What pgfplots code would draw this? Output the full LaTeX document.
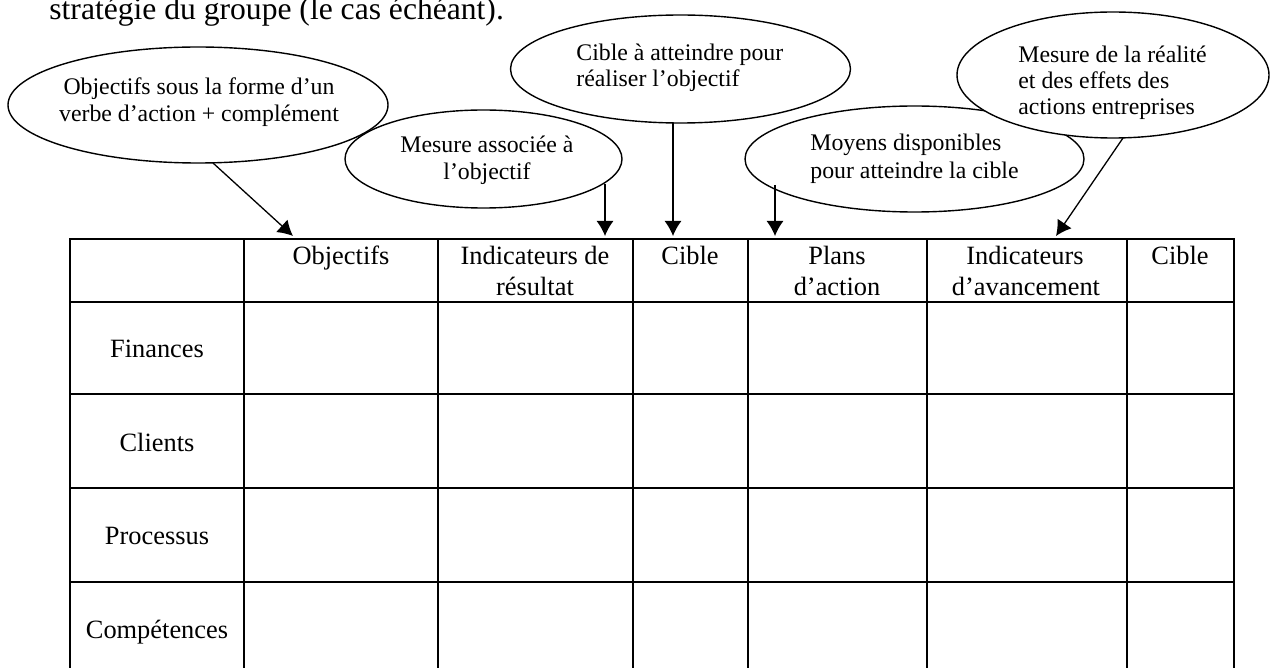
\documentclass[border=0pt]{standalone}
\usepackage{fontspec}
\setmainfont{Liberation Serif}
\usepackage{pgfplots}
\pgfplotsset{compat=1.18}
\usetikzlibrary{arrows.meta}
\tikzset{
  tbl/.style={black, line width=1.35pt, line cap=rect, mark=none},
  ell/.style={draw=black, fill=white, line width=0.7pt},
  arr/.style={-{Latex[length=7.5pt,width=8.5pt]}, line width=0.65pt},
  etxt/.style={inner sep=0pt, font=\fontsize{11.9}{13}\selectfont},
  ttxt/.style={inner sep=0pt, font=\fontsize{13.2}{15}\selectfont},
}
\begin{document}
\begin{tikzpicture}
\useasboundingbox (0,0) rectangle (636.5pt,334pt);
\begin{axis}[
  at={(0pt,0pt)}, anchor=south west,
  scale only axis, width=636.5pt, height=334pt,
  xmin=0, xmax=1273, ymin=0, ymax=668, y dir=reverse,
  hide axis, clip=true,
]
% heading text
\node[anchor=base west, inner sep=0pt, font=\fontsize{15.8}{19}\selectfont] at (axis cs:49,20) {stratégie du groupe (le cas échéant).};

% ellipse 1
\draw[ell] (axis cs:198,105) ellipse [x radius=95pt, y radius=29pt];
\node[etxt, anchor=base] at (axis cs:199,95) {Objectifs sous la forme d’un};
\node[etxt, anchor=base] at (axis cs:199,122) {verbe d’action + complément};
% ellipse 2
\draw[ell] (axis cs:483.5,159) ellipse [x radius=69.25pt, y radius=24.5pt];
\node[etxt, anchor=base] at (axis cs:487,153) {Mesure associée à};
\node[etxt, anchor=base] at (axis cs:487,180) {l’objectif};
% ellipse 3
\draw[ell] (axis cs:680.5,69) ellipse [x radius=85pt, y radius=27pt];
\node[etxt, anchor=base west] at (axis cs:576,61) {Cible à atteindre pour};
\node[etxt, anchor=base west] at (axis cs:576,87) {réaliser l’objectif};
% ellipse 4
\draw[ell] (axis cs:914.5,159) ellipse [x radius=84.75pt, y radius=26.5pt];
\node[etxt, anchor=base west] at (axis cs:810,151) {Moyens disponibles};
\node[etxt, anchor=base west] at (axis cs:810,179) {pour atteindre la cible};
% ellipse 5
\draw[ell] (axis cs:1113,75) ellipse [x radius=78pt, y radius=31.5pt];
\node[etxt, anchor=base west] at (axis cs:1018,63) {Mesure de la réalité};
\node[etxt, anchor=base west] at (axis cs:1018,89) {et des effets des};
\node[etxt, anchor=base west] at (axis cs:1018,115) {actions entreprises};

% arrows
\draw[arr] (axis cs:213,163) -- (axis cs:293,236);
\draw[arr] (axis cs:605,184) -- (axis cs:605,236);
\draw[arr] (axis cs:673,123) -- (axis cs:673,236);
\draw[arr] (axis cs:775,185) -- (axis cs:775,236);
\draw[arr] (axis cs:1123,138) -- (axis cs:1056,236);

% table grid
\addplot[tbl] coordinates {(70,239) (1234,239)};
\addplot[tbl] coordinates {(70,302) (1234,302)};
\addplot[tbl] coordinates {(70,394) (1234,394)};
\addplot[tbl] coordinates {(70,488) (1234,488)};
\addplot[tbl] coordinates {(70,582) (1234,582)};
\addplot[tbl] coordinates {(70,239) (70,700)};
\addplot[tbl] coordinates {(244,239) (244,700)};
\addplot[tbl] coordinates {(438,239) (438,700)};
\addplot[tbl] coordinates {(633,239) (633,700)};
\addplot[tbl] coordinates {(748,239) (748,700)};
\addplot[tbl] coordinates {(927,239) (927,700)};
\addplot[tbl] coordinates {(1127,239) (1127,700)};
\addplot[tbl] coordinates {(1234,239) (1234,700)};

% header texts
\node[ttxt, anchor=base] at (axis cs:341,264) {Objectifs};
\node[ttxt, anchor=base] at (axis cs:535,264) {Indicateurs de};
\node[ttxt, anchor=base] at (axis cs:535,295) {résultat};
\node[ttxt, anchor=base] at (axis cs:690,264) {Cible};
\node[ttxt, anchor=base] at (axis cs:837,264) {Plans};
\node[ttxt, anchor=base] at (axis cs:837,295) {d’action};
\node[ttxt, anchor=base] at (axis cs:1025,264) {Indicateurs};
\node[ttxt, anchor=base] at (axis cs:1026,295) {d’avancement};
\node[ttxt, anchor=base] at (axis cs:1180,264) {Cible};

% row labels
\node[ttxt, anchor=base] at (axis cs:157,357) {Finances};
\node[ttxt, anchor=base] at (axis cs:157,451) {Clients};
\node[ttxt, anchor=base] at (axis cs:157,544) {Processus};
\node[ttxt, anchor=base] at (axis cs:157,638) {Compétences};
\end{axis}
\end{tikzpicture}
\end{document}
